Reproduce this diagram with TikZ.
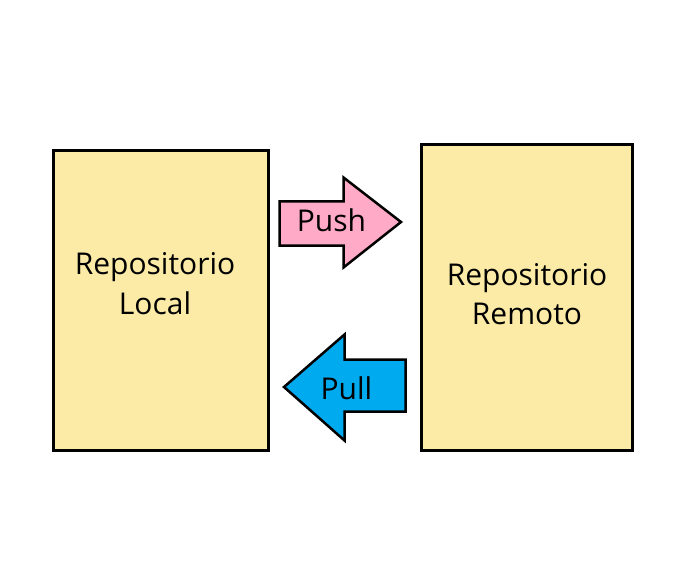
\documentclass[tikz,border=0pt]{standalone}
\usepackage{fontspec}
\setmainfont{Open Sans}
\definecolor{repofill}{HTML}{FCEBA6}
\definecolor{pushfill}{HTML}{FFAAC6}
\definecolor{pullfill}{HTML}{00AAEF}

\begin{document}
\begin{tikzpicture}[x=1pt,y=-1pt,
  repo/.style={draw=black, line width=3pt, fill=repofill},
  arrowbox/.style={draw=black, line width=2.5pt, line join=miter},
  txt/.style={align=center, inner sep=0pt, font=\fontsize{30}{39.5}\selectfont}]
  \useasboundingbox (0,0) rectangle (696,564);
  % repositorios
  \node[repo, minimum width=215pt, minimum height=300pt] (local) at (161,300.5) {};
  \node[repo, minimum width=211pt, minimum height=306pt] (remote) at (527,297.5) {};
  \node[txt] (localtxt) at (155,283.5) {Repositorio\\Local};
  \node[txt] (remotetxt) at (527,294) {Repositorio\\Remoto};
  %
  \draw[arrowbox, fill=pushfill] (279.5,201.5) -- (343.5,201.5) -- (343.5,177.5)
    -- (401,222) -- (343.5,267.5) -- (343.5,245.5) -- (279.5,245.5) -- cycle;
  \draw[arrowbox, fill=pullfill] (405.5,359.5) -- (344.5,359.5) -- (344.5,334.5)
    -- (284,387) -- (344.5,440.5) -- (344.5,411.5) -- (405.5,411.5) -- cycle;
  \node[txt] (push) at (331.5,220) {Push};
  \node[txt] (pull) at (346.5,388) {Pull};
\end{tikzpicture}
\end{document}
